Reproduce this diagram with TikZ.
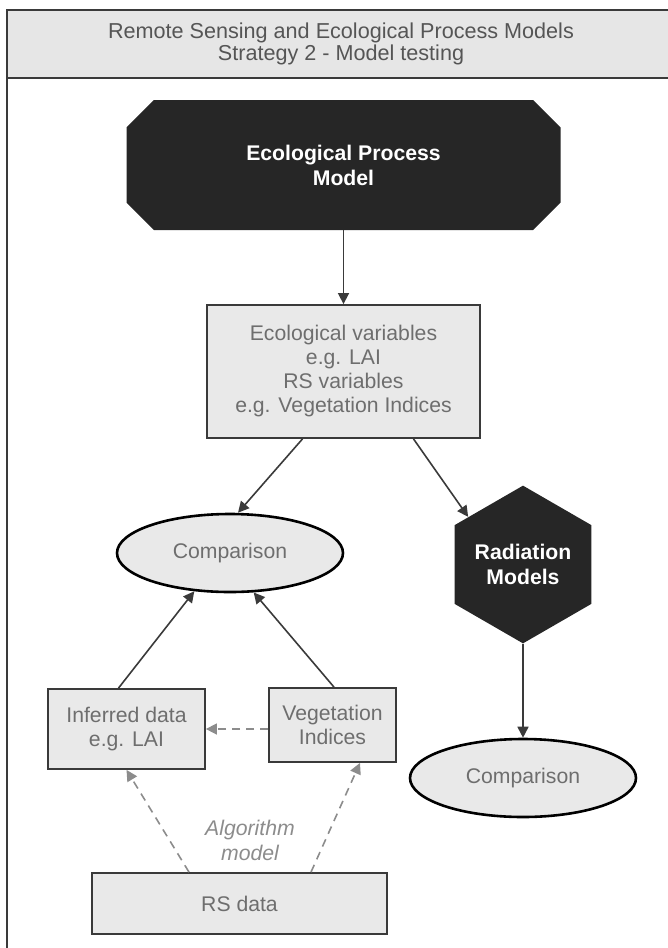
\documentclass[tikz,border=0pt]{standalone}
\usepackage{fontspec}
\setmainfont{Liberation Sans}
\usepackage{xcolor}
\usepackage{tikz}
\usetikzlibrary{positioning, shapes.geometric, shapes.misc, arrows.meta, calc}

\definecolor{panelgray}{HTML}{E6E6E6}
\definecolor{boxgray}{HTML}{E9E9E9}
\definecolor{darkshape}{HTML}{262626}
\definecolor{labelgray}{HTML}{6E6E6E}
\definecolor{titlegray}{HTML}{555555}
\definecolor{linegray}{HTML}{3A3A3A}
\definecolor{dashgray}{HTML}{8C8C8C}

\begin{document}
\begin{tikzpicture}[x=0.5pt, y=-0.5pt,
    every node/.style={font=\fontsize{10.6pt}{12pt}\selectfont, align=center},
    greybox/.style={draw=linegray, line width=0.9pt, fill=boxgray, text=labelgray, inner sep=0pt},
    darkbold/.style={fill=darkshape, text=white, font=\fontsize{10.6pt}{12.5pt}\selectfont\bfseries, inner sep=0pt},
    oval/.style={ellipse, draw=black, line width=1.3pt, fill=boxgray, text=labelgray,
      minimum width=113pt, minimum height=39pt, inner sep=0pt},
    flow/.style={draw=linegray, line width=0.8pt, -{Triangle[length=5.5pt, width=5.5pt]}},
    guess/.style={draw=dashgray, line width=0.8pt, dash pattern=on 4pt off 3pt,
      -{Triangle[length=5.5pt, width=5.5pt]}}]
        \useasboundingbox (0,0) rectangle (668,948);

        % frame and title band
        \draw[line width=0.9pt, draw=linegray] (7,10) rectangle (690,970);
        \draw[line width=0.9pt, draw=linegray, fill=panelgray] (7,10) rectangle (690,78);
        \node[text=titlegray, font=\fontsize{10.8pt}{11pt}\selectfont] (title) at (341,44)
          {Remote Sensing and Ecological Process Models\\Strategy 2 - Model testing};

        % shapes
        \node[darkbold, chamfered rectangle, chamfered rectangle xsep=21pt,
          minimum width=217pt, minimum height=65pt] (epm) at (343.5,165)
          {Ecological Process\\Model};
        \node[greybox, minimum width=136.5pt, minimum height=66.5pt] (vars) at (343.5,371.5)
          {Ecological variables\\e.g. LAI\\RS variables\\e.g. Vegetation Indices};
        \node[oval] (cmp1) at (230,553) {Comparison};
        \node[darkbold, regular polygon, regular polygon sides=6, shape border rotate=30,
          minimum size=77.5pt] (rad) at (523,564.5) {Radiation\\Models};
        \node[oval] (cmp2) at (523,778) {Comparison};
        \node[greybox, minimum width=78.5pt, minimum height=40pt] (inferred) at (126.5,729)
          {Inferred data\\e.g. LAI};
        \node[greybox, minimum width=63.5pt, minimum height=37pt] (veg) at (332.5,725)
          {Vegetation\\Indices};
        \node[greybox, minimum width=147.5pt, minimum height=30.5pt] (rs) at (239.5,903.5)
          {RS data};
        \node[text=dashgray, font=\fontsize{10.6pt}{12.5pt}\selectfont\itshape] (algo) at (250,840)
          {Algorithm\\model};

        % connectors
        \draw[flow] (epm.south) -- (vars.north);
        \draw[flow] ([xshift=-20.5pt]vars.south) -- ([xshift=4pt]cmp1.north);
        \draw[flow] ([xshift=35pt]vars.south) -- (rad.139);
        \draw[flow] (rad.south) -- (cmp2.north);
        \draw[flow] ([xshift=-4pt]inferred.north) -- (cmp1.227);
        \draw[flow] ([xshift=0.75pt]veg.north) -- (cmp1.301);
        \draw[guess] (veg.west |- inferred.east) -- (inferred.east);
        \draw[guess] ([xshift=-25.25pt]rs.north) -- (inferred.south);
        \draw[guess] ([xshift=35.75pt]rs.north) -- ([xshift=13.75pt]veg.south);
      \end{tikzpicture}
\end{document}
